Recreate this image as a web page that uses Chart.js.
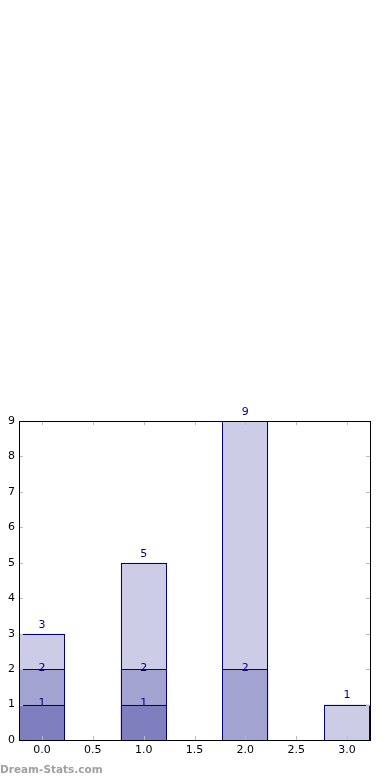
<!DOCTYPE html>
<html>
<head>
<meta charset="utf-8">
<script src="https://cdn.jsdelivr.net/npm/chart.js@4/dist/chart.umd.min.js"></script>
<style>
  html, body { margin: 0; padding: 0; background: #fff; }
  #wrap { position: relative; width: 390px; height: 780px; }
  #mark { position: absolute; left: 0; top: 763px; font: bold 10.5px "DejaVu Sans", sans-serif; color: #a0a0a0; }
</style>
</head>
<body>
<div id="wrap">
  <canvas id="myChart" width="390" height="780"></canvas>
  <div id="mark">Dream-Stats.com</div>
</div>
<script>
// bar positions and stacked series (bottom to top)
const positions = [0, 1, 2, 3];
const seriesLow = [1, 1, 0, 0];
const seriesMid = [1, 1, 2, 0];
const seriesTop = [1, 3, 7, 1];
const xTicks = [0, 0.5, 1, 1.5, 2, 2.5, 3];
const yTicks = [0, 1, 2, 3, 4, 5, 6, 7, 8, 9];

const allSeries = [seriesLow, seriesMid, seriesTop];
const fills = ['rgba(0,0,128,0.5)', 'rgba(0,0,128,0.36)', 'rgba(0,0,128,0.2)'];

// zero segments are left out so they draw nothing
const toPoints = vals => positions
    .map((x, i) => ({ x: x, y: vals[i] }))
    .filter(p => p.y > 0);

// crisp 1px navy outline around each bar segment
const outlinePlugin = {
    id: 'outline',
    afterDatasetsDraw(chart) {
        const { ctx } = chart;
        ctx.save();
        ctx.strokeStyle = '#000080';
        ctx.lineWidth = 1;
        chart.data.datasets.forEach((ds, k) => {
            chart.getDatasetMeta(k).data.forEach(el => {
                const l = Math.round(el.x - el.width / 2) + 0.5;
                const r = Math.round(el.x + el.width / 2) - 0.5;
                const t = Math.round(el.y) + 0.5;
                const b = Math.round(el.base) + 0.5;
                ctx.strokeRect(l, t, r - l, b - t);
            });
        });
        ctx.restore();
    }
};

// frame + inside tick marks, like the matplotlib look
const framePlugin = {
    id: 'frame',
    afterDatasetsDraw(chart) {
        const { ctx, chartArea: a, scales } = chart;
        ctx.save();
        ctx.strokeStyle = '#bbbbbb';
        ctx.lineWidth = 1;
        ctx.beginPath();
        xTicks.forEach(t => {
            const px = Math.round(scales.x.getPixelForValue(t)) + 0.5;
            ctx.moveTo(px, a.bottom); ctx.lineTo(px, a.bottom - 4);
            ctx.moveTo(px, a.top); ctx.lineTo(px, a.top + 4);
        });
        yTicks.forEach(t => {
            const py = Math.round(scales.y.getPixelForValue(t)) + 0.5;
            ctx.moveTo(a.left, py); ctx.lineTo(a.left + 4, py);
            ctx.moveTo(a.right, py); ctx.lineTo(a.right - 4, py);
        });
        ctx.stroke();
        ctx.strokeStyle = '#000';
        ctx.strokeRect(Math.round(a.left) + 0.5, Math.round(a.top) + 0.5,
            Math.round(a.right - a.left), Math.round(a.bottom - a.top));
        ctx.restore();
    }
};

// cumulative value labels on each segment top
const labelPlugin = {
    id: 'stackLabels',
    afterDatasetsDraw(chart) {
        const { ctx, scales } = chart;
        ctx.save();
        ctx.fillStyle = '#000080';
        ctx.font = '11px "DejaVu Sans", sans-serif';
        ctx.textAlign = 'center';
        ctx.textBaseline = 'middle';
        positions.forEach((x, i) => {
            let cum = 0;
            allSeries.forEach((s, k) => {
                if (s[i] <= 0) return;
                cum += s[i];
                const isTop = allSeries.slice(k + 1).every(o => o[i] <= 0);
                const px = scales.x.getPixelForValue(x);
                const py = scales.y.getPixelForValue(cum) - (isTop ? 9 : 1);
                ctx.fillText(String(cum), px, py);
            });
        });
        ctx.restore();
    }
};

new Chart(document.getElementById('myChart').getContext('2d'), {
    type: 'bar',
    data: {
        datasets: allSeries.map((s, k) => ({
            data: toPoints(s),
            backgroundColor: fills[k],
            borderWidth: 0,
            barPercentage: 0.9,
            categoryPercentage: 1
        }))
    },
    options: {
        responsive: false,
        animation: false,
        layout: { padding: { top: 421, right: 20, left: 0, bottom: 0 } },
        plugins: { legend: { display: false }, tooltip: { enabled: false } },
        scales: {
            x: {
                type: 'linear',
                stacked: true,
                offset: false,
                min: -0.225,
                max: 3.225,
                afterBuildTicks: sc => { sc.ticks = xTicks.map(v => ({ value: v })); },
                afterFit: sc => { sc.height = 40; },
                grid: { display: false, drawTicks: false, offset: false },
                border: { display: false },
                ticks: {
                    padding: 4,
                    color: '#000',
                    font: { family: 'DejaVu Sans', size: 11 },
                    maxRotation: 0,
                    callback: v => Number(v).toFixed(1)
                }
            },
            y: {
                stacked: true,
                min: 0,
                max: 9,
                afterBuildTicks: sc => { sc.ticks = yTicks.map(v => ({ value: v })); },
                afterFit: sc => { sc.width = 19; },
                grid: { display: false, drawTicks: false },
                border: { display: false },
                ticks: {
                    padding: 4,
                    color: '#000',
                    font: { family: 'DejaVu Sans', size: 11 }
                }
            }
        }
    },
    plugins: [outlinePlugin, framePlugin, labelPlugin]
});
</script>
</body>
</html>
